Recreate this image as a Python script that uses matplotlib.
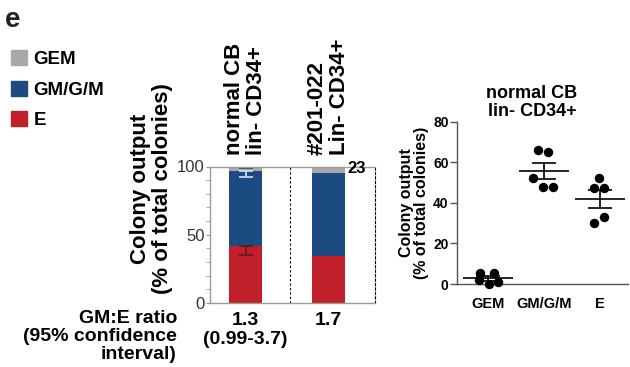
import matplotlib
matplotlib.use("Agg")
import matplotlib.pyplot as plt
from matplotlib.patches import Patch
import numpy as np

plt.rcParams['font.family'] = ['Liberation Sans', 'DejaVu Sans']

# stacked bars (left panel), % of total colonies
groups = ["normal CB\nlin- CD34+", "#201-022\nLin- CD34+"]
pct_E = [41.8, 34.7]
pct_GM = [54.9, 60.5]
pct_GEM = [3.3, 4.8]
err_E = [6.6, 0]      # lower error only
err_GM = [4.4, 0]
err_GEM = [0.8, 0]
ratios = ["1.3", "1.7"]
ratio_ci = ["(0.99-3.7)", ""]
n_label = "23"

# individual replicates (right panel)
cats = ["GEM", "GM/G/M", "E"]
vals_GEM = [5.4, 5.4, 2.0, 0.0, 1.0]
vals_GM = [66.0, 65.2, 52.1, 47.9, 47.9]
vals_E = [52.1, 47.1, 47.1, 33.2, 29.9]
jitter = [[-0.14, 0.11, -0.16, 0.02, 0.19],
          [-0.10, 0.08, -0.19, -0.01, 0.16],
          [-0.01, -0.10, 0.08, 0.08, -0.10]]

c_gem = "#a7a9ac"
c_gm = "#1b4b80"
c_e = "#c1202a"

W, H = 630, 367
fig = plt.figure(figsize=(6.3, 3.67), dpi=100)

def px(x0, y0, x1, y1):
    # pixel box -> figure fraction [l, b, w, h]
    return [x0 / W, 1 - y1 / H, (x1 - x0) / W, (y1 - y0) / H]

# ---------- left: stacked bars ----------
ax1 = fig.add_axes(px(210, 166.5, 375, 303))
x = np.arange(len(groups))
bw = 0.4
ax1.bar(x, pct_E, bw, color=c_e)
ax1.bar(x, pct_GM, bw, bottom=pct_E, color=c_gm)
top_gm = np.array(pct_E) + np.array(pct_GM)
ax1.bar(x, pct_GEM, bw, bottom=top_gm, color=c_gem)

ax1.errorbar(x[:1], pct_E[:1], yerr=[err_E[:1], [0]], fmt="none",
             ecolor="#5a1a1e", capsize=5, elinewidth=1.2, capthick=1.2)
ax1.errorbar(x[:1], top_gm[:1], yerr=[err_GM[:1], [0]], fmt="none",
             ecolor="#d8e2ee", capsize=5, elinewidth=1.2, capthick=1.2)
ax1.errorbar(x[:1], [100], yerr=[err_GEM[:1], [0]], fmt="none",
             ecolor="#333333", capsize=5, elinewidth=1.2, capthick=1.2)

ax1.set_xlim(-0.428, 1.56)
ax1.set_ylim(0, 100)
ax1.axvline(0.536, color="black", lw=0.8, ls=(0, (2, 2)))
ax1.spines["right"].set_linestyle((0, (2, 2)))
ax1.spines["right"].set_color("black")
ax1.spines["right"].set_linewidth(0.8)
for s in ["left", "bottom", "top"]:
    ax1.spines[s].set_color("#9a9a9a")
    ax1.spines[s].set_linewidth(1.0)
ax1.set_xticks([])
ax1.set_yticks([0, 50, 100])
ax1.set_yticks(np.arange(0, 101, 10), minor=True)
ax1.tick_params(axis="y", which="both", length=3, color="#9a9a9a",
                labelsize=12, labelcolor="#333333", pad=1)

for i, g in enumerate(groups):
    ax1.text(i, 1.084, g, transform=ax1.get_xaxis_transform(), rotation=90,
             ha="center", va="bottom", multialignment="left",
             fontsize=16, fontweight="bold", linespacing=1.05)
    ax1.text(i, -0.125, ratios[i], transform=ax1.get_xaxis_transform(),
             ha="center", va="center", fontsize=14, fontweight="bold")
    if ratio_ci[i]:
        ax1.text(i, -0.271, ratio_ci[i], transform=ax1.get_xaxis_transform(),
                 ha="center", va="center", fontsize=14, fontweight="bold")
ax1.text(1.223, 98.5, n_label, ha="left", va="center",
         fontsize=12, fontweight="bold")

fig.text(151.5 / W, 1 - 188.5 / H, "Colony output\n(% of total colonies)",
         rotation=90, ha="center", va="center", multialignment="center",
         fontsize=16, fontweight="bold", linespacing=1.05)
fig.text(177 / W, 1 - 336.5 / H, "GM:E ratio\n(95% confidence\ninterval)",
         ha="right", va="center", multialignment="right",
         fontsize=14, fontweight="bold", linespacing=1.05)

# panel letter and legend
fig.text(5 / W, 1 - 7 / H, "e", ha="left", va="top",
         fontsize=20, fontweight="bold", color="#222222")
handles = [Patch(color=c_gem), Patch(color=c_gm), Patch(color=c_e)]
fig.legend(handles, ["GEM", "GM/G/M", "E"], loc="upper left",
           bbox_to_anchor=(11 / W, 1 - 50 / H), frameon=False,
           borderpad=0, borderaxespad=0, handlelength=0.85, handleheight=0.85,
           handletextpad=0.35, labelspacing=0.68,
           prop={"weight": "bold", "size": 13.5})

# ---------- right: dot plot ----------
ax2 = fig.add_axes(px(457, 121.7, 628, 284))
for i, v in enumerate([vals_GEM, vals_GM, vals_E]):
    v = np.array(v)
    ax2.scatter(i + np.array(jitter[i]), v, s=46, color="black",
                zorder=3, clip_on=False, linewidths=0)
    m = v.mean()
    sem = v.std(ddof=1) / np.sqrt(len(v))
    ax2.hlines(m, i - 0.45, i + 0.45, color="black", lw=1.2)
    ax2.vlines(i, m - sem, m + sem, color="black", lw=1.2)
    ax2.hlines([m - sem, m + sem], i - 0.22, i + 0.22, color="black", lw=1.2)

ax2.set_xlim(-0.55, 2.5)
ax2.set_ylim(0, 80)
ax2.set_yticks([0, 20, 40, 60, 80])
ax2.set_xticks(range(len(cats)))
ax2.set_xticklabels(cats, fontweight="bold", fontsize=10.5)
for lab in ax2.get_yticklabels():
    lab.set_fontweight("bold")
ax2.tick_params(axis="y", length=5, width=1, color="#555555",
                labelsize=10, pad=1)
ax2.tick_params(axis="x", length=0, pad=9)
for s in ["top", "right"]:
    ax2.spines[s].set_visible(False)
for s in ["left", "bottom"]:
    ax2.spines[s].set_color("#555555")
    ax2.spines[s].set_linewidth(1.0)
ax2.set_ylabel("Colony output\n(% of total colonies)", fontsize=11.5,
               fontweight="bold", linespacing=1.0, labelpad=3)
fig.text(532 / W, 1 - 102.5 / H, "normal CB\nlin- CD34+", ha="center",
         va="center", fontsize=13, fontweight="bold", linespacing=1.1)

fig.savefig("out.png", dpi=100)
